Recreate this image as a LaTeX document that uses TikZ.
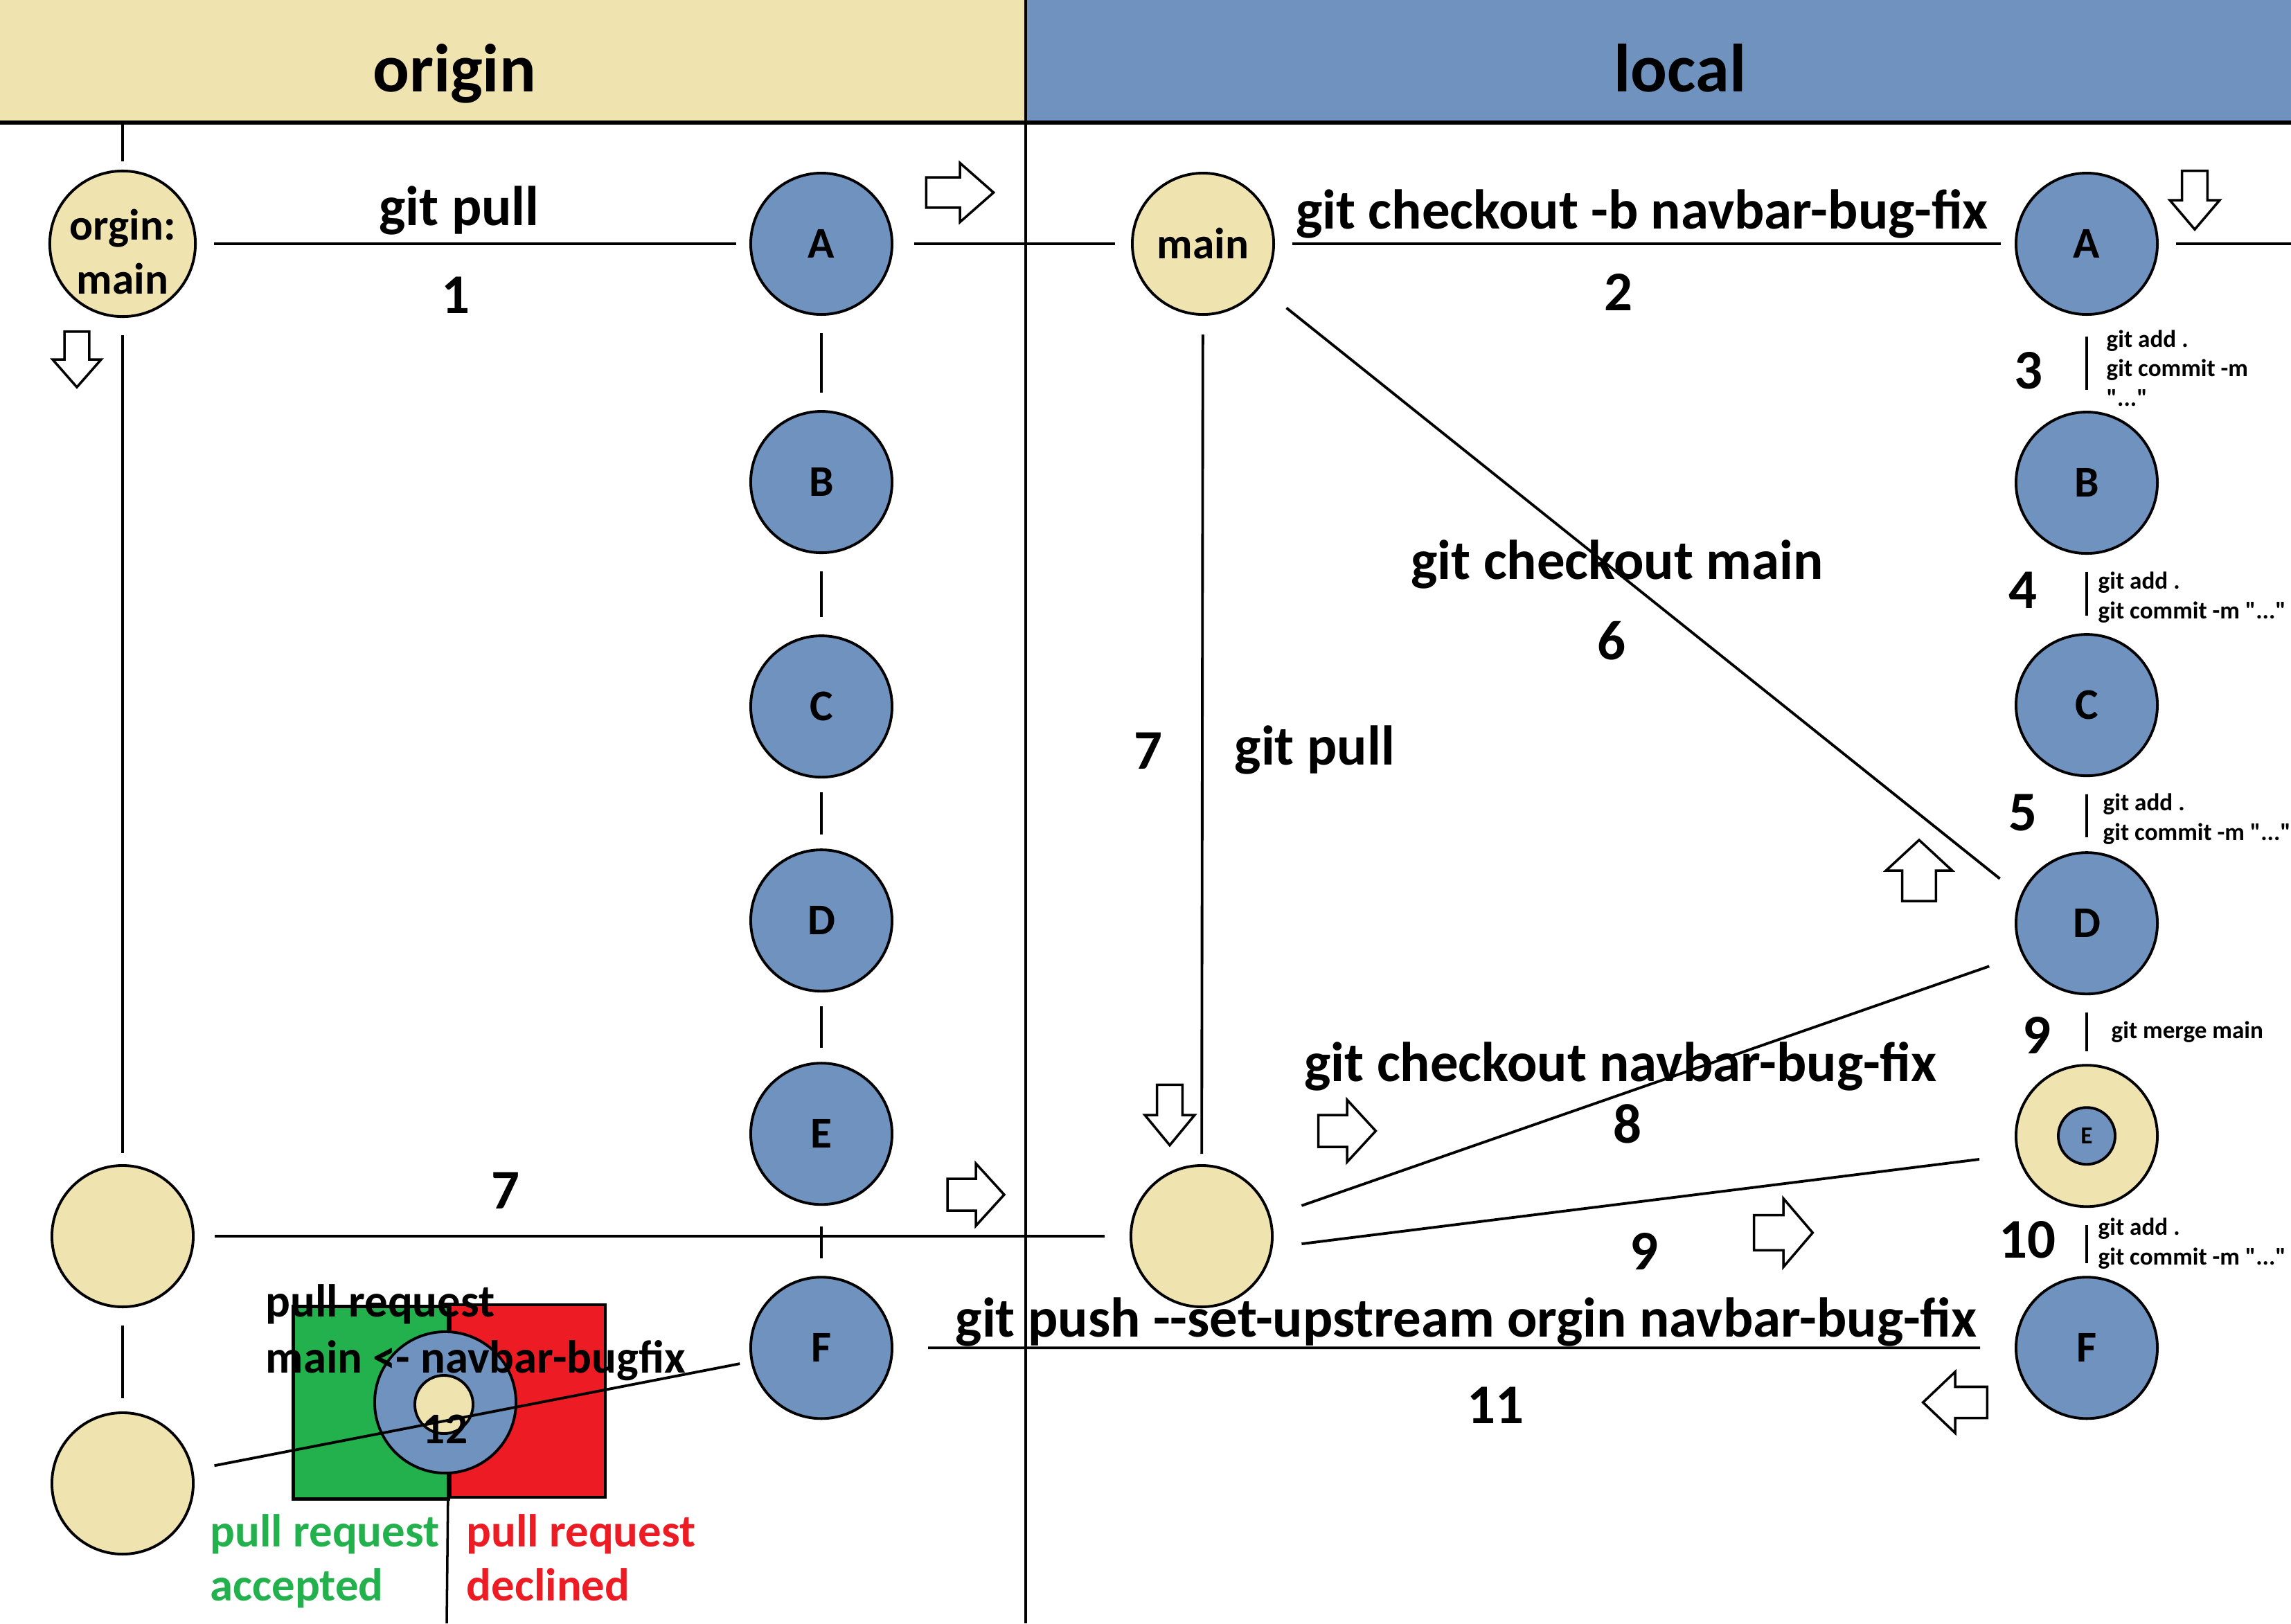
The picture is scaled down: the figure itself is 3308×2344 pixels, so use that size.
\documentclass[tikz,border=0pt]{standalone}
\usepackage{fontspec}
\setmainfont{Carlito}
\usetikzlibrary{positioning}
\definecolor{sable}{RGB}{239,228,176}
\definecolor{ardoise}{RGB}{112,146,190}
\definecolor{okgreen}{RGB}{34,177,76}
\definecolor{nored}{RGB}{237,28,36}
\newcommand{\qt}[1]{\textquotedbl#1\textquotedbl}
\tikzset{
  commit/.style={circle, draw, line width=1.1pt, fill=#1, minimum size=2.04cm, inner sep=0pt,
                 align=center, font=\fontsize{18}{22}\selectfont\bfseries},
  commit/.default=ardoise,
  link/.style={line width=1.1pt, shorten <=0.25cm, shorten >=0.25cm},
  title/.style={anchor=base, inner sep=0pt, font=\fontsize{28}{32}\selectfont\bfseries},
  lbl/.style={anchor=base, inner sep=0pt, font=\fontsize{23}{27}\selectfont\bfseries},
  gitcmd/.style={anchor=base west, inner sep=0pt, align=left, font=\fontsize{10}{12}\selectfont\bfseries},
  prlbl/.style={anchor=base west, inner sep=0pt, align=left, font=\fontsize{19}{23}\selectfont\bfseries},
  fleche/.pic={\draw[line width=1pt, fill=white] (-45,-23) -- (0,-23) -- (0,-45) -- (45,0)
               -- (0,45) -- (0,23) -- (-45,23) -- cycle;},
}
\begin{document}
\begin{tikzpicture}[x=0.01cm, y=-0.01cm]
  \useasboundingbox (0,0) rectangle (3308,2344);
  \fill[white] (0,0) rectangle (3308,2344);
  % header bands
  \fill[sable] (0,0) rectangle (1481,177);
  \fill[ardoise] (1481,0) rectangle (3308,177);
  \node[title] (torigin) at (656,132) {origin};
  \node[title] (tlocal) at (2426,132) {local};
  \coordinate (rtop) at (1481,0); \coordinate (rbot) at (1481,2344);
  \draw[line width=1.6pt] (0,177) -- (3308,177);
  \draw[line width=1pt] (rtop) -- (rbot);

  % origin side
  \node[commit=sable] (om) at (177,352) {\\[-0.1cm]orgin:\\main};
  \node[commit=sable] (o7) at (177,1785) {};
  \node[commit=sable] (o12) at (177,2142) {};
  \node[commit] (oA) at (1186,352) {A};
  \node[commit, below=1.36cm of oA] (oB) {B};
  \node[commit, below=1.16cm of oB] (oC) {C};
  \node[commit, below=1.01cm of oC] (oD) {D};
  \node[commit, below=1.00cm of oD] (oE) {E};
  \node[commit, below=1.01cm of oE] (oF) {F};

  % local side
  \node[commit=sable] (lm) at (1737,352) {main};
  \node[commit=sable] (lm2) at (1735,1785) {};
  \node[commit] (lA) at (3013,352) {A};
  \node[commit, below=1.37cm of lA] (lB) {B};
  \node[commit, below=1.13cm of lB] (lC) {C};
  \node[commit, below=1.07cm of lC] (lD) {D};
  \node[commit=sable, below=0.99cm of lD] (lE) {};
  \node[commit, minimum size=0.82cm, font=\fontsize{10}{12}\selectfont\bfseries] (lEi) at (lE) {E};
  \node[commit, below=0.98cm of lE] (lF) {F};

  \coordinate (hd) at (177,177);
  \coordinate (redge) at (3308,352);

  % connectors
  \draw[link, shorten <=0cm, shorten >=0.12cm] (hd) -- (om);
  \draw[link, shorten >=0.16cm] (om) -- (o7); \draw[link, shorten >=0.19cm] (o7) -- (o12);
  \draw[link, shorten >=0.19cm] (om) -- (oA); \draw[link, shorten <=0.3cm, shorten >=0.23cm] (oA) -- (lm);
  \draw[link, shorten >=0.2cm] (lm) -- (lA); \draw[link, shorten >=0cm] (lA) -- (redge);
  \draw[link] (oA) -- (oB); \draw[link] (oB) -- (oC); \draw[link, shorten <=0.2cm, shorten >=0.2cm] (oC) -- (oD);
  \draw[link, shorten <=0.2cm, shorten >=0.2cm] (oD) -- (oE); \draw[link, shorten <=0.3cm] (oE) -- (oF);
  \draw[link, shorten <=0.3cm, shorten >=0.3cm] (lA) -- (lB); \draw[link] (lB) -- (lC);
  \draw[link, shorten >=0.2cm] (lC) -- (lD); \draw[link, shorten >=0.18cm] (lD) -- (lE);
  \draw[link, shorten >=0.18cm] (lE) -- (lF);
  \draw[link, shorten <=0.27cm, shorten >=0.15cm] (lm) -- (lm2);
  \draw[link, shorten <=0.48cm, shorten >=0.38cm] (lm.-37) -- (lD.157);
  \draw[link, shorten <=0.47cm, shorten >=0.5cm] (lm2.16) -- (lD.-154);
  \draw[link, shorten <=0.42cm, shorten >=0.55cm] (lm2.-9) -- (lE.-165);
  \draw[link, shorten <=0.29cm, shorten >=0.36cm] (o7) -- (lm2);
  \draw[link, shorten <=0.5cm, shorten >=0.5cm] (lF) -- (oF);

  % labels
  \node[lbl] (t1) at (663,325) {git pull};
  \node[lbl] (n1) at (658,452) {1};
  \node[lbl] (t2) at (2371,330) {git checkout -b navbar-bug-fix};
  \node[lbl] (n2) at (2337,448) {2};
  \node[lbl] (t6) at (2335,836) {git checkout main};
  \node[lbl] (n6) at (2327,952) {6};
  \node[lbl] (n7l) at (1658,1110) {7};
  \node[lbl, anchor=base west] (t7l) at (1782,1104) {git pull};
  \node[lbl] (n7o) at (730,1745) {7};
  \node[lbl] (t8) at (2340,1561) {git checkout navbar-bug-fix};
  \node[lbl] (n8) at (2350,1650) {8};
  \node[lbl] (n9) at (2374,1833) {9};
  \node[lbl] (t11) at (2117,1930) {git push -{}-set-upstream orgin navbar-bug-fix};
  \node[lbl] (n11) at (2159,2055) {11};

  % steps along the branch
  \node[lbl] (s3) at (2929,561) {3};
  \node[gitcmd] (c3) at (3041,586) {git add .\\git commit -m\\\qt{...}};
  \node[lbl] (s4) at (2921,878) {4};
  \node[gitcmd] (c4) at (3029,893) {git add .\\git commit -m \qt{...}};
  \node[lbl] (s5) at (2921,1199) {5};
  \node[gitcmd] (c5) at (3036,1213) {git add .\\git commit -m \qt{...}};
  \node[lbl] (s9) at (2941,1521) {9};
  \node[gitcmd] (c9) at (3048,1499) {git merge main};
  \node[lbl] (s10) at (2927,1816) {10};
  \node[gitcmd] (c10) at (3029,1826) {git add .\\git commit -m \qt{...}};

  % block arrows
  \pic[xscale=1.08, yscale=0.95] at (1386,278) {fleche};
  \pic[rotate=-90, xscale=0.89, yscale=0.78] at (111,519) {fleche};
  \pic[rotate=-90, xscale=0.94, yscale=0.8] at (3169,289) {fleche};
  \pic[rotate=90, xscale=0.98, yscale=1.06] at (2771,1257) {fleche};
  \pic[rotate=-90, xscale=0.97, yscale=0.8] at (1689,1610) {fleche};
  \pic[xscale=0.92, yscale=1] at (1945,1633) {fleche};
  \pic[xscale=0.91, yscale=1] at (1409,1725) {fleche};
  \pic[xscale=0.94, yscale=1.1] at (2575,1780) {fleche};
  \pic[rotate=180, xscale=1.03, yscale=0.98] at (2823,2025) {fleche};

  % pull request
  \node[draw, line width=1.3pt, fill=okgreen, minimum width=2.24cm, minimum height=2.78cm,
        anchor=north west, inner sep=0pt] (prok) at (421,1884) {};
  \node[draw, line width=1.3pt, fill=nored, minimum width=2.24cm, minimum height=2.78cm,
        anchor=north west, inner sep=0pt, outer sep=0pt] (prko) at (prok.north east) {};
  \coordinate (prbot) at (645,2344);
  \draw[line width=1pt] (prok.north east) -- (prbot);
  \node[commit] (pr) at (643,2025) {};
  \node[commit=sable, minimum size=0.84cm] (prin) at (641,2028) {};
  \draw[link, shorten <=0.31cm, shorten >=0.16cm] (o12) -- (oF);
  \node[lbl, font=\fontsize{18}{22}\selectfont\bfseries] (n12) at (643,2084) {12};
  \node[prlbl] (prt) at (383,1982) {pull request\\main <- navbar-bugfix};
  \node[prlbl, text=okgreen, font=\fontsize{19}{22}\selectfont\bfseries] (tacc) at (303,2311) {pull request\\accepted};
  \node[prlbl, text=nored, font=\fontsize{19}{22}\selectfont\bfseries] (tdec) at (673,2311) {pull request\\declined};
\end{tikzpicture}
\end{document}
